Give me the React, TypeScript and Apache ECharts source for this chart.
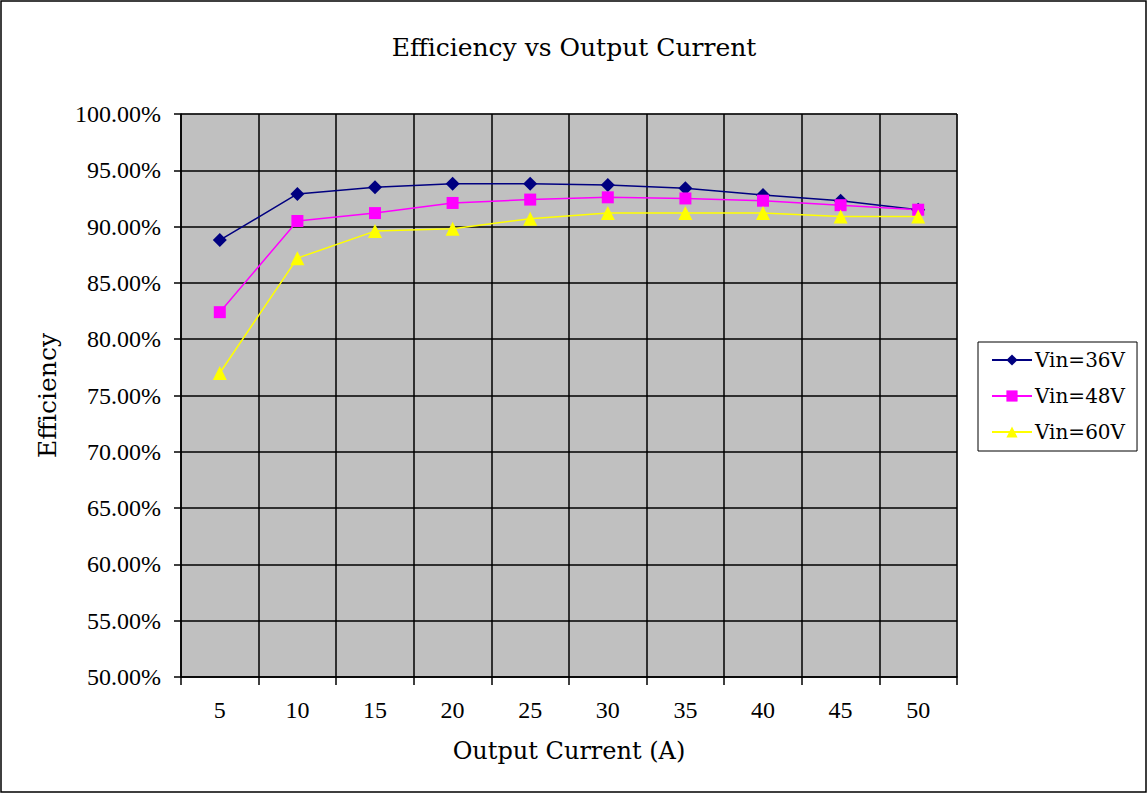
import React, { useEffect, useRef } from "react";
import * as echarts from "echarts";

const categories = ["5", "10", "15", "20", "25", "30", "35", "40", "45", "50"];
const vin36 = [88.8, 92.9, 93.5, 93.8, 93.8, 93.7, 93.4, 92.8, 92.3, 91.5];
const vin48 = [82.4, 90.5, 91.2, 92.1, 92.4, 92.6, 92.5, 92.3, 91.9, 91.5];
const vin60 = [77.0, 87.2, 89.6, 89.8, 90.7, 91.2, 91.2, 91.2, 90.9, 90.9];
const seriesNames = ["Vin=36V", "Vin=48V", "Vin=60V"];

const SERIF = "'Liberation Serif', serif";
const WIDE = "'DejaVu Serif', serif";

export default function App() {
  const ref = useRef<HTMLDivElement>(null);
  useEffect(() => {
    document.body.style.margin = "0";
    const chart = echarts.init(ref.current!, undefined, { renderer: "svg" });
    const mk = (name: string, data: number[], color: string, symbol: string, size: number) => ({
      name,
      type: "line",
      data,
      symbol,
      symbolSize: size,
      showSymbol: true,
      lineStyle: { color, width: 1.5 },
      itemStyle: { color, borderWidth: 0 },
    });
    chart.setOption({
      animation: false,
      backgroundColor: "#ffffff",
      title: {
        text: "Efficiency vs Output Current",
        left: "center",
        top: 30,
        textStyle: { fontFamily: WIDE, fontSize: 25, fontWeight: "normal", color: "#000" },
      },
      graphic: [
        {
          type: "rect",
          shape: { x: 1, y: 1, width: 1145, height: 791 },
          style: { fill: "none", stroke: "#000", lineWidth: 1.5 },
          silent: true,
        },
      ],
      legend: {
        orient: "vertical",
        left: 978,
        top: 342,
        data: seriesNames,
        backgroundColor: "#fff",
        borderColor: "#000",
        borderWidth: 1,
        padding: [8, 12, 9, 13],
        itemGap: 16,
        itemWidth: 40,
        itemHeight: 14,
        textStyle: { fontFamily: WIDE, fontSize: 20, color: "#000", padding: [0, 0, 0, -2] },
      },
      grid: {
        left: 181,
        top: 114,
        width: 776,
        height: 563,
        show: true,
        backgroundColor: "#c0c0c0",
        borderColor: "#808080",
        borderWidth: 1,
      },
      xAxis: {
        type: "category",
        data: categories,
        boundaryGap: true,
        name: "Output Current (A)",
        nameLocation: "middle",
        nameGap: 62,
        nameTextStyle: { fontFamily: WIDE, fontSize: 24, color: "#000" },
        axisLine: { show: true, lineStyle: { color: "#000", width: 1.5 } },
        axisTick: { show: true, alignWithLabel: false, length: 8, inside: false, lineStyle: { color: "#000", width: 1.5 } },
        axisLabel: { fontFamily: SERIF, fontSize: 24, color: "#000", margin: 21 },
        splitLine: { show: true, lineStyle: { color: "#000", width: 1.5 } },
      },
      yAxis: {
        type: "value",
        min: 50,
        max: 100,
        interval: 5,
        name: "Efficiency",
        nameLocation: "middle",
        nameGap: 121,
        nameRotate: 90,
        nameTextStyle: { fontFamily: WIDE, fontSize: 25, color: "#000" },
        axisLine: { show: true, lineStyle: { color: "#000", width: 1.5 } },
        axisTick: { show: true, length: 7, lineStyle: { color: "#000", width: 1.5 } },
        axisLabel: {
          fontFamily: SERIF,
          fontSize: 24,
          color: "#000",
          margin: 20,
          formatter: (v: number) => v.toFixed(2) + "%",
        },
        splitLine: { show: true, lineStyle: { color: "#000", width: 1.5 } },
      },
      series: [
        mk(seriesNames[0], vin36, "#000080", "diamond", 14),
        mk(seriesNames[1], vin48, "#ff00ff", "rect", 12),
        mk(seriesNames[2], vin60, "#ffff00", "triangle", 14),
      ],
    });
    return () => chart.dispose();
  }, []);
  return <div ref={ref} style={{ position: "fixed", left: 0, top: 0, width: 1148, height: 794 }} />;
}
